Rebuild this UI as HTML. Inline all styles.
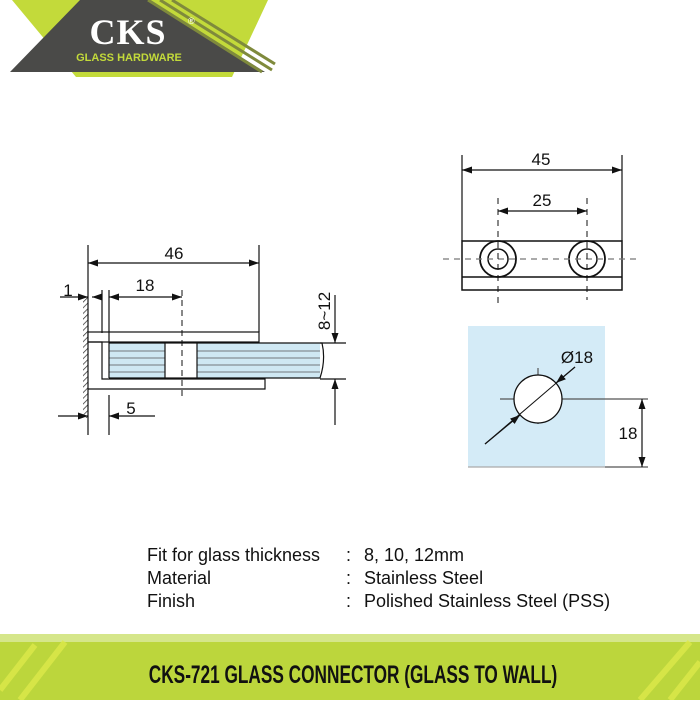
<!DOCTYPE html>
<html><head><style>
body{margin:0;width:700px;height:700px;background:#fff;overflow:hidden;font-family:"Liberation Sans",sans-serif}
</style></head><body>
<svg width="700" height="700" viewBox="0 0 700 700" xmlns="http://www.w3.org/2000/svg" font-family="Liberation Sans, sans-serif">
<defs>
<pattern id="h" width="4" height="4" patternUnits="userSpaceOnUse" patternTransform="rotate(45)"><line x1="0" y1="0" x2="0" y2="4" stroke="#333" stroke-width="1.5"/></pattern>
<marker id="a" viewBox="0 0 10 10" refX="10" refY="5" markerWidth="10" markerHeight="10" orient="auto-start-reverse" markerUnits="userSpaceOnUse"><path d="M0,1.5 L10,5 L0,8.5z" fill="#111"/></marker>
</defs>
<!-- logo -->
<polygon points="12,0 268,0 232,77 76,77" fill="#c3da3a"/>
<polygon points="80,0 150,0 265,72 10,72" fill="#4a4a48"/>
<g stroke="#7f8a3c" stroke-width="3">
<line x1="148" y1="0" x2="262" y2="72"/><line x1="160" y1="0" x2="272" y2="70"/><line x1="172" y1="0" x2="275" y2="64"/>
</g>
<text x="128" y="44" fill="#fff" font-family="Liberation Serif, serif" font-weight="bold" font-size="36" text-anchor="middle" letter-spacing="1">CKS</text>
<text x="188" y="24" fill="#fff" font-size="9">®</text>
<text x="129" y="61" fill="#c3da3a" font-weight="bold" font-size="11" text-anchor="middle">GLASS HARDWARE</text>

<g stroke="#111" stroke-width="1.2" fill="none">
<rect x="83" y="296" width="5" height="122" fill="url(#h)" stroke="none"/>
<line x1="88" y1="245" x2="88" y2="435"/>
<line x1="259" y1="245" x2="259" y2="332"/>
<rect x="88" y="332" width="171" height="10" fill="#fff"/>
<path d="M88,342 H102 V379 H265 V389 H88"/>
<rect x="109" y="343" width="211" height="35" fill="#cfe8f3" stroke="none"/>
<g stroke="#555" stroke-width="0.8"><line x1="109" y1="351" x2="320" y2="351"/><line x1="109" y1="358" x2="320" y2="358"/><line x1="109" y1="365" x2="320" y2="365"/><line x1="109" y1="372" x2="320" y2="372"/></g>
<path d="M109,343 H322 Q326,360 320,378 H109"/>
<line x1="109" y1="343" x2="109" y2="378"/>
<rect x="165" y="343" width="32" height="35" fill="#fff"/>
<line x1="182" y1="290" x2="182" y2="400" stroke-dasharray="6,4" stroke-width="1"/>
<line x1="102" y1="290" x2="102" y2="333"/>
<line x1="109" y1="290" x2="109" y2="343"/>
<line x1="109" y1="395" x2="109" y2="435"/>
<line x1="88" y1="263" x2="259" y2="263" marker-start="url(#a)" marker-end="url(#a)"/>
<line x1="109" y1="297" x2="182" y2="297" marker-start="url(#a)" marker-end="url(#a)"/>
<line x1="60" y1="297" x2="88" y2="297" marker-end="url(#a)"/>
<line x1="92" y1="297" x2="102" y2="297" marker-start="url(#a)"/>
<line x1="58" y1="416" x2="88" y2="416" marker-end="url(#a)"/>
<line x1="109" y1="416" x2="155" y2="416" marker-start="url(#a)"/>
<line x1="320" y1="343" x2="346" y2="343"/>
<line x1="320" y1="379" x2="346" y2="379"/>
<line x1="335" y1="295" x2="335" y2="343" marker-end="url(#a)"/>
<line x1="335" y1="425" x2="335" y2="379" marker-end="url(#a)"/>
<line x1="462" y1="155" x2="462" y2="241"/><line x1="622" y1="155" x2="622" y2="241"/>
<line x1="462" y1="170" x2="622" y2="170" marker-start="url(#a)" marker-end="url(#a)"/>
<line x1="498" y1="211" x2="587" y2="211" marker-start="url(#a)" marker-end="url(#a)"/>
<rect x="462" y="241" width="160" height="49" stroke-width="1.5"/>
<line x1="462" y1="277" x2="622" y2="277" stroke-width="1.5"/>
<circle cx="498" cy="259" r="18" stroke-width="1.8"/><circle cx="498" cy="259" r="10" stroke-width="1.5"/>
<circle cx="587" cy="259" r="18" stroke-width="1.8"/><circle cx="587" cy="259" r="10" stroke-width="1.5"/>
<line x1="443" y1="259" x2="638" y2="259" stroke="#777" stroke-dasharray="6,5"/>
<line x1="498" y1="198" x2="498" y2="305" stroke-dasharray="6,5" stroke-width="1"/>
<line x1="587" y1="198" x2="587" y2="300" stroke-dasharray="6,5" stroke-width="1"/>
<rect x="468" y="326" width="137" height="141" fill="#d4ebf7" stroke="none"/>
<line x1="468" y1="467" x2="605" y2="467" stroke="#aaa"/>
<line x1="500" y1="399" x2="648" y2="399" stroke="#555"/>
<line x1="605" y1="467" x2="648" y2="467" stroke="#555"/>
<line x1="538" y1="368" x2="538" y2="424" stroke="#555"/>
<circle cx="538" cy="399" r="24" fill="#fff" stroke-width="1.3"/>
<line x1="485" y1="444" x2="575" y2="367" stroke-width="1"/>
<line x1="485" y1="444" x2="520" y2="415" marker-end="url(#a)"/>
<line x1="575" y1="367" x2="556" y2="383" marker-end="url(#a)"/>
<line x1="642" y1="399" x2="642" y2="467" marker-start="url(#a)" marker-end="url(#a)"/>
</g>
<g fill="#111" font-size="17">
<text x="174" y="259" text-anchor="middle">46</text>
<text x="145" y="291" text-anchor="middle">18</text>
<text x="68" y="296" text-anchor="middle">1</text>
<text x="131" y="414" text-anchor="middle">5</text>
<text transform="translate(330,311) rotate(-90)" text-anchor="middle">8~12</text>
<text x="541" y="165" text-anchor="middle">45</text>
<text x="542" y="206" text-anchor="middle">25</text>
<text x="577" y="363" text-anchor="middle">Ø18</text>
<text x="628" y="439" text-anchor="middle">18</text>
</g>
<g fill="#111" font-size="18">
<text x="147" y="561">Fit for glass thickness</text><text x="346" y="561">:</text><text x="364" y="561">8, 10, 12mm</text>
<text x="147" y="584">Material</text><text x="346" y="584">:</text><text x="364" y="584">Stainless Steel</text>
<text x="147" y="607">Finish</text><text x="346" y="607">:</text><text x="364" y="607">Polished Stainless Steel (PSS)</text>
</g>
<rect x="0" y="634" width="700" height="66" fill="#bcd63c"/>
<rect x="0" y="634" width="700" height="8" fill="#d5e68a"/>
<g stroke="#dde94a" stroke-width="6" opacity="0.8">
<line x1="0" y1="690" x2="35" y2="645"/><line x1="20" y1="700" x2="65" y2="642"/><line x1="640" y1="700" x2="690" y2="642"/><line x1="670" y1="700" x2="700" y2="662"/>
</g>
<text x="0" y="0" transform="translate(353,683) scale(0.69,1)" text-anchor="middle" font-weight="bold" font-size="25" fill="#111">CKS-721 GLASS CONNECTOR (GLASS TO WALL)</text>
</svg>
</body></html>
